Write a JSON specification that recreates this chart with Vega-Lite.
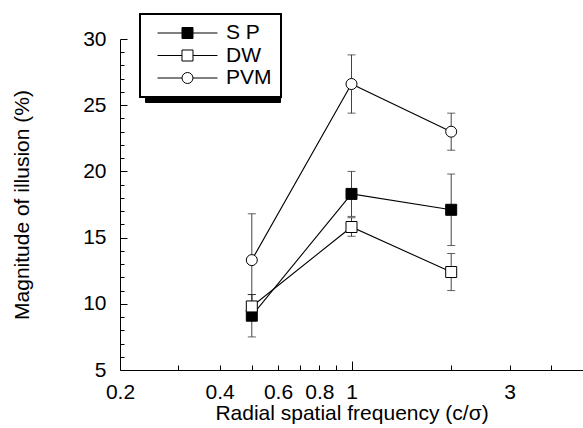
{
  "$schema": "https://vega.github.io/schema/vega-lite/v6.json",
  "width": 463,
  "height": 331,
  "autosize": "none",
  "padding": {"left": 120, "top": 39, "right": 0, "bottom": 58},
  "background": "white",
  "config": {
    "font": "Liberation Sans",
    "view": {"stroke": null},
    "axis": {"grid": false, "domainColor": "black", "tickColor": "black", "labelColor": "black", "titleColor": "black", "titleFontWeight": "normal"}
  },
  "data": {
    "values": [
      {"series": "S P", "f": 0.5, "m": 9.1, "lo": 7.5, "hi": 10.7},
      {"series": "S P", "f": 1, "m": 18.3, "lo": 16.6, "hi": 20.0},
      {"series": "S P", "f": 2, "m": 17.1, "lo": 14.4, "hi": 19.8},
      {"series": "DW", "f": 0.5, "m": 9.8, "lo": 8.9, "hi": 10.7},
      {"series": "DW", "f": 1, "m": 15.8, "lo": 15.1, "hi": 16.5},
      {"series": "DW", "f": 2, "m": 12.4, "lo": 11.0, "hi": 13.8},
      {"series": "PVM", "f": 0.5, "m": 13.3, "lo": 9.9, "hi": 16.8},
      {"series": "PVM", "f": 1, "m": 26.6, "lo": 24.4, "hi": 28.8},
      {"series": "PVM", "f": 2, "m": 23.0, "lo": 21.6, "hi": 24.4}
    ]
  },
  "layer": [
    {
      "mark": {"type": "rule", "color": "#444", "strokeWidth": 1},
      "encoding": {
        "x": {"field": "f", "type": "quantitative", "scale": {"type": "log", "domain": [0.2, 5], "nice": false},
          "axis": {"orient": "bottom", "values": [0.3, 0.4, 0.5, 0.6, 0.7, 0.8, 0.9, 2, 3, 4], "tickSize": -5, "labels": false, "domain": true, "domainWidth": 1, "title": null}},
        "y": {"field": "lo", "type": "quantitative", "scale": {"domain": [5, 30], "nice": false, "zero": false},
          "axis": {"orient": "left", "values": [6, 7, 8, 9, 11, 12, 13, 14, 16, 17, 18, 19, 21, 22, 23, 24, 26, 27, 28, 29], "tickSize": -4, "labels": false, "domain": true, "domainWidth": 1, "title": null}},
        "y2": {"field": "hi"}
      }
    },
    {
      "mark": {"type": "tick", "orient": "horizontal", "size": 8, "thickness": 1, "color": "#222"},
      "encoding": {
        "x": {"field": "f", "type": "quantitative",
          "axis": {"orient": "bottom", "values": [1], "tickSize": -9, "labels": false, "domain": false, "title": null}},
        "y": {"field": "lo", "type": "quantitative",
          "axis": {"orient": "left", "values": [5, 10, 15, 20, 25, 30], "tickSize": -7, "labels": false, "domain": false, "title": null}}
      }
    },
    {
      "mark": {"type": "tick", "orient": "horizontal", "size": 8, "thickness": 1, "color": "#222"},
      "encoding": {
        "x": {"field": "f", "type": "quantitative",
          "axis": {"orient": "bottom", "values": [0.2, 0.4, 0.6, 0.8, 1, 3], "format": "~g", "ticks": false, "domain": false, "labelFontSize": 21, "labelPadding": 11, "labelOverlap": false, "labelFlush": false, "title": "Radial spatial frequency (c/σ)", "titleFontSize": 21, "titlePadding": 0}},
        "y": {"field": "hi", "type": "quantitative",
          "axis": {"orient": "left", "values": [5, 10, 15, 20, 25, 30], "ticks": false, "domain": false, "labelFontSize": 21, "labelPadding": 14, "labelOverlap": false, "labelFlush": false, "title": "Magnitude of illusion (%)", "titleFontSize": 21, "titlePadding": 50}}
      }
    },
    {
      "mark": {"type": "line", "color": "black", "strokeWidth": 1.1},
      "encoding": {
        "x": {"field": "f", "type": "quantitative", "axis": null},
        "y": {"field": "m", "type": "quantitative", "axis": null},
        "detail": {"field": "series"}
      }
    },
    {
      "mark": {"type": "point", "filled": true, "size": 121, "stroke": "black", "strokeWidth": 1, "opacity": 1},
      "encoding": {
        "x": {"field": "f", "type": "quantitative", "axis": null},
        "y": {"field": "m", "type": "quantitative", "axis": null},
        "shape": {"field": "series", "type": "nominal", "scale": {"domain": ["S P", "DW", "PVM"], "range": ["square", "square", "circle"]}, "legend": null},
        "fill": {"field": "series", "type": "nominal", "scale": {"domain": ["S P", "DW", "PVM"], "range": ["black", "white", "white"]}, "legend": null}
      }
    },
    {
      "mark": {"type": "point", "filled": true, "size": 121, "opacity": 0},
      "encoding": {
        "x": {"field": "f", "type": "quantitative", "axis": null},
        "y": {"field": "m", "type": "quantitative", "axis": null},
        "shape": {"field": "series", "type": "nominal",
          "scale": {"domain": ["S P", "DW", "PVM"], "range": ["M-0.27,0H4.18M6.18,0H10.63M4.18,-1H6.18V1H4.18Z", "M-0.27,0H4.18M6.18,0H10.63M4.18,-1H6.18V1H4.18Z", "M-0.27,0H4.18M6.18,0H10.63M4.18,0A1,1,0,1,1,6.18,0A1,1,0,1,1,4.18,0Z"]},
          "legend": {"orient": "none", "legendX": 25, "legendY": -20, "zindex": 0, "title": null, "padding": 8.5, "fillColor": "black", "strokeColor": "black", "labelFontSize": 21, "labelColor": "black", "labelExpr": "' '", "symbolSize": 121, "symbolOffset": 0, "labelOffset": 96.2, "rowPadding": 0.5, "symbolOpacity": 1, "symbolStrokeColor": "black", "symbolFillColor": "black", "symbolStrokeWidth": 1}},
        "fill": {"field": "series", "type": "nominal", "scale": {"domain": ["S P", "DW", "PVM"], "range": ["black", "black", "black"]},
          "legend": {"orient": "none", "legendX": 25, "legendY": -20, "zindex": 0, "title": null, "padding": 8.5, "fillColor": "black", "strokeColor": "black", "labelFontSize": 21, "labelColor": "black", "labelExpr": "' '", "symbolSize": 121, "symbolOffset": 0, "labelOffset": 96.2, "rowPadding": 0.5, "symbolOpacity": 1, "symbolStrokeColor": "black", "symbolStrokeWidth": 1}}
      }
    },
    {
      "mark": {"type": "point", "filled": true, "size": 121, "opacity": 0},
      "encoding": {
        "x": {"field": "f", "type": "quantitative", "axis": null},
        "y": {"field": "m", "type": "quantitative", "axis": null},
        "shape": {"field": "series", "type": "nominal",
          "scale": {"domain": ["S P", "DW", "PVM"], "range": ["M-0.27,0H4.18M6.18,0H10.63M4.18,-1H6.18V1H4.18Z", "M-0.27,0H4.18M6.18,0H10.63M4.18,-1H6.18V1H4.18Z", "M-0.27,0H4.18M6.18,0H10.63M4.18,0A1,1,0,1,1,6.18,0A1,1,0,1,1,4.18,0Z"]},
          "legend": {"orient": "none", "legendX": 20, "legendY": -25, "zindex": 1, "title": null, "padding": 8.5, "fillColor": "white", "strokeColor": "black", "labelFontSize": 21, "labelColor": "black", "symbolSize": 121, "symbolOffset": 0, "labelOffset": 56.5, "rowPadding": 0.5, "symbolOpacity": 1, "symbolStrokeColor": "black", "symbolStrokeWidth": 1,
            "encode": {"legend": {"update": {"strokeWidth": {"value": 2}}}}}},
        "fill": {"field": "series", "type": "nominal", "scale": {"domain": ["S P", "DW", "PVM"], "range": ["black", "white", "white"]},
          "legend": {"orient": "none", "legendX": 20, "legendY": -25, "zindex": 1, "title": null, "padding": 8.5, "fillColor": "white", "strokeColor": "black", "labelFontSize": 21, "labelColor": "black", "symbolSize": 121, "symbolOffset": 0, "labelOffset": 56.5, "rowPadding": 0.5, "symbolOpacity": 1, "symbolStrokeColor": "black", "symbolStrokeWidth": 1,
            "encode": {"legend": {"update": {"strokeWidth": {"value": 2}}}}}}
      }
    }
  ],
  "resolve": {
    "axis": {"x": "independent", "y": "independent"},
    "scale": {"shape": "independent", "fill": "independent"}
  }
}
